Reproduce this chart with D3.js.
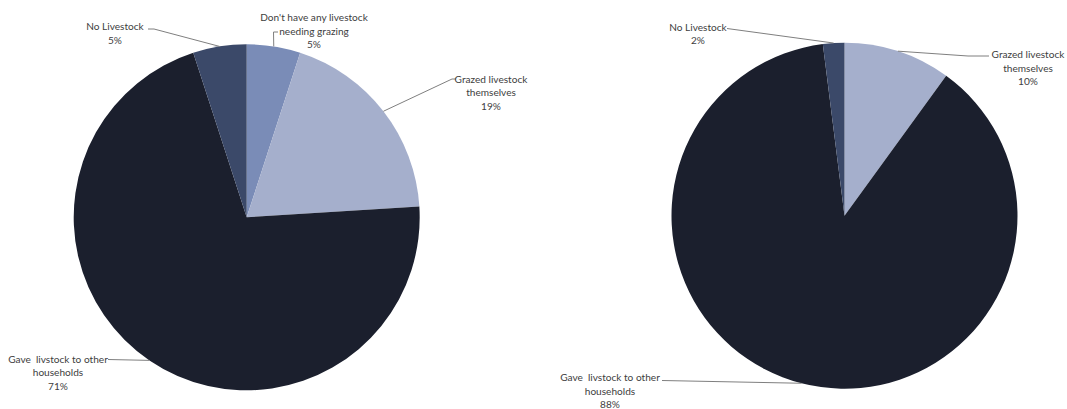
<!DOCTYPE html>
<html>
<head>
<meta charset="utf-8">
<script src="https://cdn.jsdelivr.net/npm/d3@7"></script>
<style>
  html, body { margin: 0; padding: 0; background: #ffffff; }
  svg { display: block; }
  .lbl { font-family: Lato, "Open Sans", sans-serif; font-size: 10.1px; fill: #404040; }
  .leader { fill: none; stroke: #7f7f7f; stroke-width: 1; }
</style>
</head>
<body>
<svg id="chart" width="1067" height="409"></svg>
<script>
// Survey results: what households did with their livestock during grazing season
const leftCategories = [
  "Don't have any livestock needing grazing",
  "Grazed livestock themselves",
  "Gave livstock to other households",
  "No Livestock"
];
const leftValues = [5, 19, 71, 5];

const rightCategories = [
  "Grazed livestock themselves",
  "Gave livstock to other households",
  "No Livestock"
];
const rightValues = [10, 88, 2];

// Label text lines per category (percent appended from the value)
const labelLines = {
  "Don't have any livestock needing grazing": ["Don't have any livestock", "needing grazing"],
  "Grazed livestock themselves": ["Grazed livestock", "themselves"],
  "Gave livstock to other households": ["Gave\u2002livstock to other", "households"],
  "No Livestock": ["No Livestock"]
};

const sliceColors = {
  "Don't have any livestock needing grazing": "#7a8cb7",
  "Grazed livestock themselves": "#a5afcc",
  "Gave livstock to other households": "#1b1f2d",
  "No Livestock": "#3b4969"
};

const radius = 173;
const lineGap = 13.5;

// Label placement: text centre x, first-line y, and the bend points of the leader line
const leftLayout = {
  "Don't have any livestock needing grazing": { x: 314, y: 17, bend: [[273.5, 32], [278, 32]] },
  "Grazed livestock themselves": { x: 491, y: 78.5, bend: [[452, 79], [456, 79]] },
  "Gave livstock to other households": { x: 58, y: 358.5, bend: [[108, 359.5]] },
  "No Livestock": { x: 115, y: 26, bend: [[154, 29], [148, 29]] }
};
const rightLayout = {
  "Grazed livestock themselves": { x: 1028, y: 54, bend: [[968, 56], [989, 56]] },
  "Gave livstock to other households": { x: 610, y: 377, bend: [[662, 380.5]] },
  "No Livestock": { x: 698, y: 26.5, bend: [[727, 28.5]] }
};

const svg = d3.select("#chart");

function drawPie(cx, cy, categories, values, layout) {
  const data = categories.map((c, i) => ({ category: c, value: values[i] }));
  const pie = d3.pie().sort(null).value(d => d.value);
  const arcs = pie(data);
  const arc = d3.arc().innerRadius(0).outerRadius(radius);

  const g = svg.append("g").attr("transform", `translate(${cx},${cy})`);

  g.selectAll("path.slice")
    .data(arcs)
    .join("path")
    .attr("class", "slice")
    .attr("d", arc)
    .attr("fill", d => sliceColors[d.data.category]);

  // Leader lines from the middle of each slice's outer edge to its label
  const line = d3.line();
  arcs.forEach(a => {
    const mid = (a.startAngle + a.endAngle) / 2;
    const edge = [cx + radius * Math.sin(mid), cy - radius * Math.cos(mid)];
    const L = layout[a.data.category];
    svg.append("path")
      .attr("class", "leader")
      .attr("d", line([edge, ...L.bend]));

    const lines = labelLines[a.data.category].concat([d3.format(".0f")(a.data.value) + "%"]);
    const t = svg.append("text")
      .attr("class", "lbl")
      .attr("text-anchor", "middle")
      .attr("dominant-baseline", "central");
    lines.forEach((s, i) => {
      t.append("tspan")
        .attr("x", L.x)
        .attr("y", L.y + i * lineGap)
        .text(s);
    });
  });
}

drawPie(246.7, 217.3, leftCategories, leftValues, leftLayout);
drawPie(844.5, 215.7, rightCategories, rightValues, rightLayout);
</script>
</body>
</html>
